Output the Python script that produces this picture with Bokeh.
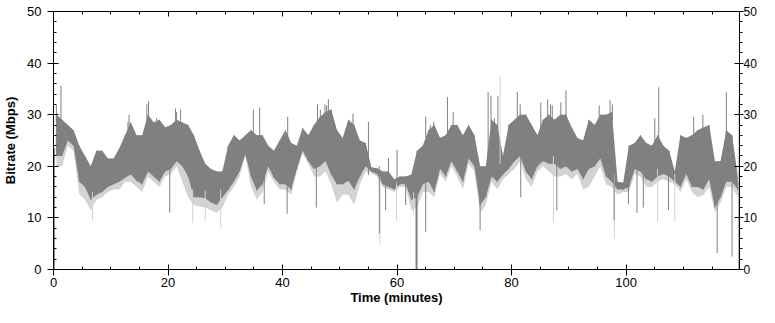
from bokeh.plotting import figure
from bokeh.models import LinearAxis, Range1d, FixedTicker, ColumnDataSource
from bokeh.embed import file_html
from bokeh.resources import INLINE

# ---- data (per-minute bins: body of the trace) ----
minute = list(range(120))
dark_hi = [30, 29, 28, 27, 24, 22, 20, 23, 23, 21.5,
           21.5, 23.5, 26, 28.5, 26, 26, 30, 28.5, 29, 27.5,
           28, 29, 28.5, 28, 26, 23, 20.5, 19.5, 19, 19,
           24, 26, 25, 26, 27, 26, 26, 24, 23, 25,
           27, 24.5, 24, 27.4, 26, 28, 29.5, 30.5, 31, 27,
           25.5, 29, 28, 25, 24.5, 19.8, 19.6, 19, 19, 17.5,
           18, 18, 18.4, 23, 24, 27, 28, 25.5, 26, 28,
           28, 26, 28, 26, 20, 20, 29, 28, 22, 28,
           29, 30, 30, 28, 26, 29, 30, 29, 30, 30,
           27.5, 25.5, 25, 29, 28, 30, 30, 30.5, 17, 16.8,
           24, 24.5, 26, 24.5, 24, 26, 24, 23, 19, 26,
           25.5, 26, 27, 27.5, 28, 21, 21, 27, 26, 18]
dark_lo = [22, 22, 25, 24, 17, 16, 13.5, 14.5, 15, 16,
           16.5, 17, 17.8, 18.4, 17.2, 16.5, 19, 18, 17, 19,
           19.5, 21, 20, 18, 14, 14, 13.8, 13, 12.5, 14,
           15.4, 17, 19, 22.3, 18, 15.3, 16.5, 20, 17.8, 16.5,
           16.5, 15.5, 19.5, 23, 21, 19.5, 20, 21, 18.4, 16.5,
           16.5, 17.2, 15.5, 18, 20, 19, 18.5, 16.5, 16, 15.5,
           16.5, 16.5, 13.5, 14, 16.5, 17, 15, 19.5, 18, 21,
           19, 17, 21.5, 20, 12.5, 14, 18, 17, 18.4, 19.5,
           21, 22, 19, 17.5, 20, 21, 20.5, 20.5, 19.5, 20,
           19, 19.5, 17.5, 19.5, 20, 21.5, 18, 17, 15.5, 15.5,
           16, 19.5, 19, 17.5, 17, 18, 18.5, 18, 17, 16,
           18.5, 16, 16, 15.5, 17.5, 12, 14, 17, 17, 15.5]
light_lo = [20, 20, 24, 23, 14.6, 13.5, 11.5, 13.5, 14, 15,
            15.5, 15.5, 17, 17, 16, 15, 18, 17, 16, 18,
            18.5, 20, 17, 14, 12.5, 12.2, 12, 11.5, 11, 12,
            14.5, 16, 18, 22, 16, 13.5, 15, 19, 17, 15.5,
            15.5, 14.5, 19, 22.5, 20.5, 18, 18, 19, 16.5, 13,
            14.5, 14.5, 12.5, 16.5, 19, 18.7, 18, 16, 15.5, 15,
            16, 16, 11.5, 12, 15, 15, 14, 18.5, 17, 20,
            18, 15.5, 20.5, 19, 11, 12.5, 17, 15.5, 17.5, 18.5,
            19.5, 21, 17.5, 16, 19, 20, 19, 18, 18, 18.5,
            17.5, 18.5, 15.5, 16, 18, 20, 16.5, 16, 14.5, 15,
            15, 18.5, 18, 16, 16, 17, 17.5, 17, 16.5, 15,
            17.5, 15, 14, 14.5, 16, 11, 13, 16, 16, 14]

# isolated spikes (time in minutes, peak value in Mbps)
up_t = [0.5, 1.3, 13.0, 13.2, 16.3, 16.6, 18.0, 21.3, 21.5, 22.2, 34.9, 36.0,
        40.9, 46.1, 46.6, 47.4, 47.7, 48.0, 52.3, 55.0, 58.5, 60.0, 65.0,
        65.8, 66.4, 68.8, 69.8, 75.9, 76.4, 77.0, 77.6, 81.0, 81.5, 85.1,
        86.3, 86.8, 87.1, 88.6, 89.5, 95.3, 97.2, 97.6, 105.0, 105.7,
        111.8, 113.4, 117.5]
up_v = [31.8, 35.6, 28.6, 30, 32, 32.6, 29.3, 31.2, 30.5, 31, 31, 31.4,
        29.6, 32, 31, 32, 31.8, 33, 30.2, 28.6, 21.6, 23.2, 29.6,
        28, 28.6, 33.4, 30.5, 34.4, 33.7, 29.3, 33.6, 34.4, 32, 32.4,
        33, 32, 31.8, 32.4, 34.7, 31.8, 32.8, 32, 29.3, 35.3,
        29.6, 30, 34.4]
down_t = [0.15, 20.3, 36.8, 40.8, 45.9, 56.9, 58.0, 61.5, 65.0, 74.5,
          81.6, 87.9, 97.9, 100.4, 101.9, 103.0, 107.4, 115.9, 118.5, 119.7]
down_v = [0, 11, 12.7, 10.8, 12, 7, 11.5, 12.5, 7.3, 7.6,
          14, 11.5, 9.5, 12.7, 11, 12, 11.5, 3.2, 2.5, 0]
drop_t = [63.4]
drop_v = [0]
light_down_t = [6.8, 24.3, 26.5, 29.2, 57.0, 59.9, 62.9, 87.3, 97.95, 105.5, 108.5]
light_down_v = [9.5, 9, 9.5, 8, 4.8, 9.5, 10.8, 9, 6, 9.3, 9.3]
light_up_t = [78.0, 119.6]
light_up_v = [37.5, 33]

DARK = "#808080"
LIGHT = "#d3d3d3"
FONT = "Liberation Sans"

centre = [m + 0.5 for m in minute]
band = ColumnDataSource(dict(t=centre, hi=dark_hi, lo=dark_lo, llo=light_lo))

p = figure(width=759, height=307, x_range=Range1d(0, 119.8), y_range=Range1d(0, 50),
           output_backend="svg", toolbar_location=None,
           min_border_left=50, min_border_right=17, min_border_top=11, min_border_bottom=37)
p.background_fill_color = "white"
p.border_fill_color = "white"
p.outline_line_color = None
p.xgrid.grid_line_color = None
p.ygrid.grid_line_color = None

p.varea(x="t", y1="llo", y2="hi", source=band, fill_color=LIGHT, fill_alpha=1.0)
p.varea(x="t", y1="lo", y2="hi", source=band, fill_color=DARK, fill_alpha=1.0)
# a thin stroke through each bin's extent keeps the outline ragged
p.segment(x0=centre, y0=dark_lo, x1=centre, y1=dark_hi, line_color=DARK, line_width=1)

def base_hi(tt):
    return [dark_hi[min(int(v), 119)] - 1.5 for v in tt]

def base_lo(tt):
    return [dark_lo[min(int(v), 119)] + 1.5 for v in tt]

p.segment(x0=light_down_t, y0=base_lo(light_down_t), x1=light_down_t, y1=light_down_v,
          line_color=LIGHT, line_width=1)
p.segment(x0=light_up_t, y0=base_hi(light_up_t), x1=light_up_t, y1=light_up_v,
          line_color=LIGHT, line_width=1)
p.segment(x0=up_t, y0=base_hi(up_t), x1=up_t, y1=up_v, line_color=DARK, line_width=1)
p.segment(x0=down_t, y0=base_lo(down_t), x1=down_t, y1=down_v, line_color=DARK, line_width=1)
p.segment(x0=drop_t, y0=base_lo(drop_t), x1=drop_t, y1=drop_v, line_color=DARK, line_width=2)

x_major = [0, 20, 40, 60, 80, 100]
x_minor = list(range(0, 120, 5))
y_major = [0, 10, 20, 30, 40, 50]
y_minor = list(range(0, 51, 2))

def style(ax, major, minor):
    ax.ticker = FixedTicker(ticks=major, minor_ticks=minor)
    ax.axis_line_color = "black"
    ax.major_tick_line_color = "black"
    ax.minor_tick_line_color = "black"
    ax.major_label_text_font = FONT
    ax.major_label_text_font_size = "13px"
    ax.major_label_text_color = "black"
    ax.axis_label_text_font = FONT
    ax.axis_label_text_font_size = "13px"
    ax.axis_label_text_font_style = "bold"
    ax.axis_label_text_color = "black"

xb = p.xaxis[0]
style(xb, x_major, x_minor)
xb.axis_label = "Time (minutes)"
xb.major_tick_in, xb.major_tick_out = 5, 6
xb.minor_tick_in, xb.minor_tick_out = 3, 0
xb.major_label_standoff = 2
xb.axis_label_standoff = 0

yl = p.yaxis[0]
style(yl, y_major, y_minor)
yl.axis_label = "Bitrate (Mbps)"
yl.major_tick_in, yl.major_tick_out = 5, 6
yl.minor_tick_in, yl.minor_tick_out = 3, 0
yl.major_label_standoff = 6
yl.axis_label_standoff = 6

yr = LinearAxis()
style(yr, y_major, y_minor)
yr.major_label_text_font_size = "12px"
yr.major_tick_in, yr.major_tick_out = 5, 4
yr.minor_tick_in, yr.minor_tick_out = 0, 3
yr.major_label_standoff = 0
p.add_layout(yr, "right")

xt = LinearAxis()
style(xt, x_major, x_minor)
xt.major_tick_in, xt.major_tick_out = 5, 0
xt.minor_tick_in, xt.minor_tick_out = 3, 0
xt.major_label_overrides = {v: "" for v in x_major}
xt.major_label_text_font_size = "0px"
xt.major_label_standoff = 0
p.add_layout(xt, "above")

open("out.html", "w").write(file_html(p, INLINE))
